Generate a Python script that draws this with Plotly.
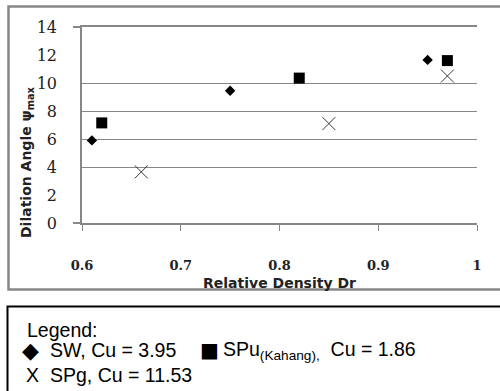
import plotly.graph_objects as go

# ---- data ----
dr_sw = [0.61, 0.75, 0.95]
psi_sw = [5.9, 9.45, 11.65]
dr_spu = [0.62, 0.82, 0.97]
psi_spu = [7.15, 10.35, 11.6]
dr_spg = [0.66, 0.85, 0.97]
psi_spg = [3.65, 7.1, 10.5]

x_ticks = [0.6, 0.7, 0.8, 0.9, 1.0]
x_tick_labels = ["0.6", "0.7", "0.8", "0.9", "1"]
y_ticks = [0, 2, 4, 6, 8, 10, 12, 14]
y_tick_labels = ["0", "2", "4", "6", "8", "10", "12", "14"]
y_grid = [4, 6, 8, 10, 14]
y_edge_ticks = [0, 14]

# ---- layout geometry (pixels) ----
W, H = 500, 391
ML, MR, MT, MB = 82, 23, 27, 168
PW, PH = W - ML - MR, H - MT - MB


def px(x):
    return (x - ML) / PW


def py(y):
    return (H - MB - y) / PH


GRAY = "#878787"

fig = go.Figure()
# helper (invisible) traces so that the overlay axes carrying grid and edge ticks get drawn
fig.add_trace(go.Scatter(x=[None], y=[None], yaxis="y2", showlegend=False,
                         hoverinfo="skip", mode="markers"))
fig.add_trace(go.Scatter(x=[None], y=[None], yaxis="y3", showlegend=False,
                         hoverinfo="skip", mode="markers"))

fig.add_trace(go.Scatter(x=dr_sw, y=psi_sw, mode="markers", name="SW, Cu = 3.95",
                         marker=dict(symbol="diamond", size=8, color="black"),
                         cliponaxis=False))
fig.add_trace(go.Scatter(x=dr_spu, y=psi_spu, mode="markers", name="SPu(Kahang), Cu = 1.86",
                         marker=dict(symbol="square", size=11, color="black"),
                         cliponaxis=False))
fig.add_trace(go.Scatter(x=dr_spg, y=psi_spg, mode="markers", name="SPg, Cu = 11.53",
                         marker=dict(symbol="x-thin-open", size=13, color="#3a3a3a",
                                     line=dict(color="#3a3a3a", width=1)),
                         cliponaxis=False))

fig.update_layout(
    width=W, height=H,
    margin=dict(l=ML, r=MR, t=MT, b=MB, pad=0),
    paper_bgcolor="white", plot_bgcolor="white",
    showlegend=False,
    xaxis=dict(range=[0.6, 1.0], tickvals=x_ticks, ticktext=x_tick_labels,
               ticks="outside", ticklen=6, tickcolor=GRAY, tickwidth=1.3,
               showline=True, mirror=True, linecolor=GRAY, linewidth=1.5,
               showgrid=False, zeroline=False, ticklabelstandoff=24,
               tickfont=dict(family="DejaVu Serif", size=13, color="#222", weight="bold"),
               title=dict(text="Relative Density Dr", standoff=6,
                          font=dict(family="DejaVu Sans", size=14, color="#222", weight="bold"))),
    yaxis=dict(range=[0, 14], tickvals=y_ticks, ticktext=y_tick_labels,
               ticks="", showline=True, linecolor=GRAY, linewidth=1.5,
               showgrid=False, zeroline=False, ticklabelstandoff=20,
               tickfont=dict(family="DejaVu Serif", size=16, color="#222")),
    yaxis2=dict(range=[0, 14], overlaying="y", anchor="x", side="left",
                tickmode="array", tickvals=y_grid,
                showgrid=True, gridcolor=GRAY, gridwidth=1.3, ticks="",
                showticklabels=False, zeroline=False, showline=False),
    yaxis3=dict(range=[0, 14], overlaying="y", anchor="x", side="left",
                tickmode="array", tickvals=y_edge_ticks, ticks="outside", ticklen=8,
                tickcolor=GRAY, tickwidth=1.5, showticklabels=False, showgrid=False,
                zeroline=False, showline=False),
)

# outer chart border and legend box
fig.add_shape(type="rect", xref="paper", yref="paper",
              x0=px(8.5), x1=px(503), y0=py(289.5), y1=py(6.5),
              line=dict(color=GRAY, width=2.5), fillcolor="rgba(0,0,0,0)", layer="above")
fig.add_shape(type="rect", xref="paper", yref="paper",
              x0=px(7.5), x1=px(504), y0=py(396), y1=py(306.5),
              line=dict(color="black", width=2), fillcolor="rgba(0,0,0,0)", layer="above")

# y-axis title
fig.add_annotation(xref="paper", yref="paper", x=px(27), y=py(162),
                   text="Dilation Angle ψ<sub>max</sub>", textangle=-90, showarrow=False,
                   font=dict(family="DejaVu Sans", size=14, color="#222", weight="bold"),
                   xanchor="center", yanchor="middle")

# text legend
LF = dict(family="Liberation Sans, Arial", size=19.5, color="black")
GF = dict(family="DejaVu Sans", size=22, color="black")
GS = dict(family="DejaVu Sans", size=20, color="black")
legend_items = [
    ("Legend:", 25, 330, LF),
    ("◆", 20, 350, GF),
    ("SW, Cu = 3.95", 48, 350, LF),
    ("■", 198, 350, GS),
    ("SPu<sub>(Kahang),</sub>\u00a0 Cu = 1.86", 221, 350, LF),
    ("X", 24, 375, LF),
    ("SPg, Cu = 11.53", 48, 375, LF),
]
for txt, x, y, f in legend_items:
    fig.add_annotation(xref="paper", yref="paper", x=px(x), y=py(y), text=txt,
                       showarrow=False, xanchor="left", yanchor="middle", font=f)

fig.write_html("out.html")
